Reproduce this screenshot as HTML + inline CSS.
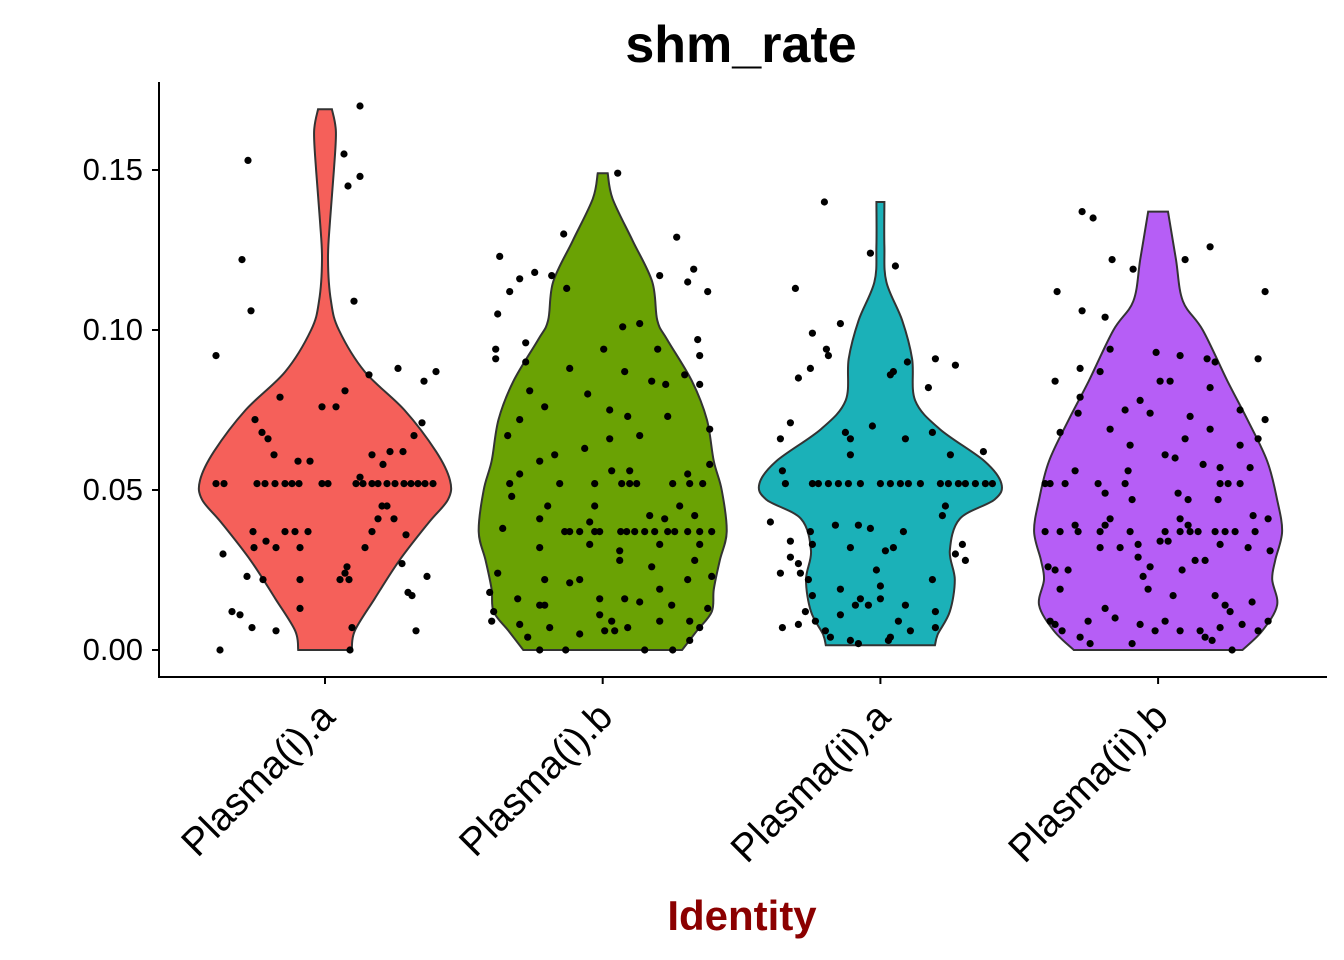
<!DOCTYPE html>
<html><head><meta charset="utf-8"><style>
html,body{margin:0;padding:0;background:#fff;}
svg{display:block;font-family:"Liberation Sans",Arial,sans-serif;}
</style></head><body>
<svg id="chart" width="1344" height="960" xmlns="http://www.w3.org/2000/svg">
<text x="741" y="62" text-anchor="middle" font-size="52" font-weight="bold">shm_rate</text>
<g id="plot"></g>
<text x="742" y="930" text-anchor="middle" font-size="42" font-weight="bold" fill="#8B0000">Identity</text>
</svg>
<script>
const categories = ["Plasma(i).a","Plasma(i).b","Plasma(ii).a","Plasma(ii).b"];
const colors = ["#F5605A","#6AA204","#1BB1B8","#B65EF6"];
const yTicks = [0,0.05,0.10,0.15];
const yTickLabels = ["0.00","0.05","0.10","0.15"];
// violin profiles: value (per mille) and relative density
const violinVals = [
 [0,6,16,28,40,47,53,62,75,87,100,109,122,134,150,162,169],
 [0,6,12,19,28,37,50,59,72,84,97,103,115,128,141,149],
 [1.5,5,12,22,31,41,47,52,59,69,78,91,103,115,126,140],
 [0,6,14,22,28,37,47,59,72,84,100,109,122,137]
];
const violinDens = [
 [27,30,50,75,105,124,126,112,80,40,14,6,3,5,9,11,7],
 [80,95,110,112,118,125,120,112,105,90,65,55,50,30,10,5],
 [55,58,70,75,70,80,115,122,105,60,35,32,22,6,4,4],
 [85,105,120,115,118,125,120,110,90,70,45,25,18,10]
];
const g1Row52=[-109,-101,-68,-60,-50,-40,-33,-26,-3,3,31,38,47,53,62,70,79,86,93,100,108];
const pts1=[[-109,92],[-77,153],[-83,122],[-74,106],[35,170],[19,155],[23,145],[35,148],[29,109],[44,86],[20,81],[-3,76],[11,76],[-15,59],[-27,59],[-70,72],[-45,79],[-63,68],[-57,66],[-51,61],[89,67],[97,71],[73,88],[99,84],[111,87],[65,62],[78,62],[58,58],[35,54],[47,61],[-72,37],[-40,37],[-30,37],[-17,37],[-102,30],[-71,32],[-59,34],[-49,32],[-25,32],[57,45],[53,41],[47,37],[40,32],[62,45],[69,41],[81,36],[22,26],[15,22],[24,22],[20,24],[-25,22],[-62,22],[-78,23],[-93,12],[-85,11],[-73,7],[-49,6],[-25,13],[27,7],[77,27],[83,18],[87,17],[102,23],[91,6],[-105,0],[25,0]].concat(g1Row52.map(d=>[d,52]));
const g2Row52=[-93,-43,-8,19,27,34,70,87,100];
const g2Row37=[-38,-33,-23,-8,-3,18,24,32,42,52,65,72,85,97,109];
const pts2=[[15,149],[-39,130],[-103,123],[74,129],[91,119],[105,112],[57,117],[85,115],[-93,112],[-83,116],[-68,118],[-51,117],[-36,113],[-105,105],[-107,94],[-107,91],[-77,96],[-77,90],[-73,81],[-33,88],[-15,80],[1,94],[20,101],[37,102],[55,94],[95,97],[97,92],[97,83],[82,86],[63,83],[49,84],[22,87],[7,75],[-58,76],[-83,72],[-95,67],[107,69],[65,73],[37,67],[25,73],[7,66],[-18,63],[-48,61],[-63,59],[107,58],[27,56],[9,56],[-83,55],[85,55],[-91,48],[-55,45],[-8,45],[77,45],[47,42],[-63,41],[-13,40],[62,41],[92,42],[-100,38],[-63,32],[-13,33],[17,31],[57,33],[97,33],[92,28],[49,26],[17,28],[-58,22],[-33,21],[-23,22],[-105,24],[109,23],[85,22],[57,19],[-113,18],[-85,16],[-58,14],[-3,16],[22,16],[37,15],[69,14],[105,13],[-109,12],[-111,9],[-83,8],[-63,14],[-3,11],[9,9],[25,7],[57,9],[87,9],[-75,4],[-53,7],[-23,5],[2,6],[12,6],[-37,0],[-63,0],[42,0],[70,0],[87,3],[97,7]].concat(g2Row52.map(d=>[d,52]),g2Row37.map(d=>[d,37]));
const g3Row52=[-95,-68,-62,-52,-42,-32,-20,0,10,20,28,40,60,68,78,85,95,105,112];
const pts3=[[-56,140],[-10,124],[15,120],[-85,113],[-40,102],[-68,99],[-54,94],[-52,92],[27,90],[55,91],[75,89],[-82,85],[-70,88],[13,87],[10,86],[48,82],[-90,71],[-100,66],[-8,70],[-30,66],[-35,68],[52,68],[25,66],[-30,61],[70,61],[103,62],[-98,56],[-110,40],[-45,39],[-22,39],[-10,38],[23,37],[-70,37],[65,45],[62,42],[-90,34],[-68,33],[-30,32],[13,32],[5,31],[82,33],[75,30],[85,28],[-90,29],[-82,27],[-80,24],[-100,24],[-72,22],[-4,25],[52,22],[-40,19],[0,20],[-68,17],[-75,12],[-20,16],[0,16],[-25,14],[-12,14],[25,14],[55,12],[-98,7],[-82,8],[-65,9],[-40,11],[-55,6],[-50,4],[-30,3],[-22,2],[8,3],[18,9],[30,6],[55,7],[10,4]].concat(g3Row52.map(d=>[d,52]));
const g4Row52=[-113,-108,-93,-60,-33,62,70,82];
const g4Row37=[-113,-98,-80,-58,-28,7,22,32,40,57,67,77,97];
const pts4=[[-76,137],[-65,135],[27,122],[-46,122],[-25,119],[52,126],[-101,112],[107,112],[-76,106],[-53,104],[-48,94],[-2,93],[22,92],[49,91],[57,90],[100,91],[-78,88],[-58,87],[-103,84],[2,84],[12,84],[52,82],[-78,79],[-18,78],[-80,74],[-8,74],[-33,75],[32,73],[82,75],[107,72],[-98,68],[-48,69],[52,69],[27,66],[100,66],[-28,64],[82,64],[7,61],[17,60],[45,58],[-83,56],[-30,56],[62,57],[92,57],[-53,49],[-26,47],[20,49],[30,47],[60,47],[95,42],[110,41],[-48,41],[-83,39],[-53,39],[22,41],[30,39],[-58,32],[-38,32],[-20,33],[2,34],[10,34],[62,33],[90,32],[112,31],[-20,29],[47,28],[-110,26],[-103,25],[-90,25],[-15,23],[-8,26],[24,25],[37,28],[-98,19],[-10,19],[15,17],[57,17],[67,14],[94,15],[-53,13],[72,12],[-108,9],[-103,8],[-70,9],[-43,10],[-18,8],[7,9],[42,6],[62,7],[84,8],[110,9],[-78,4],[-68,2],[-26,2],[-3,6],[22,6],[47,4],[74,0],[54,3],[100,6],[-96,6]].concat(g4Row52.map(d=>[d,52]),g4Row37.map(d=>[d,37]));
const points=[pts1,pts2,pts3,pts4];

const NS="http://www.w3.org/2000/svg";
const plot=document.getElementById('plot');
const X0=159,X1=1327,Ytop=82,Ybot=677;
const xCenter=i=>325+i*277.7;
const yScale=v=>650-v*3200;
const maxHalf=125/126;
function mk(tag,attrs){const e=document.createElementNS(NS,tag);for(const k in attrs)e.setAttribute(k,attrs[k]);plot.appendChild(e);return e;}
function smooth(pts){let d="M"+pts[0][0]+","+pts[0][1];for(let i=0;i<pts.length-1;i++){const p0=pts[Math.max(i-1,0)],p1=pts[i],p2=pts[i+1],p3=pts[Math.min(i+2,pts.length-1)];const c1=[p1[0]+(p2[0]-p0[0])/6,p1[1]+(p2[1]-p0[1])/6],c2=[p2[0]-(p3[0]-p1[0])/6,p2[1]-(p3[1]-p1[1])/6];d+=" C"+c1[0].toFixed(1)+","+c1[1].toFixed(1)+" "+c2[0].toFixed(1)+","+c2[1].toFixed(1)+" "+p2[0].toFixed(1)+","+p2[1].toFixed(1);}return d;}
categories.forEach((c,i)=>{
  const cx=xCenter(i);
  const right=violinVals[i].map((v,j)=>[cx+violinDens[i][j]*maxHalf,yScale(v/1000)]);
  const left=violinVals[i].map((v,j)=>[cx-violinDens[i][j]*maxHalf,yScale(v/1000)]).reverse();
  const d=smooth(right)+" L"+left[0][0]+","+left[0][1]+" "+smooth(left).slice(1).replace(/^[^C]*/,"")+" Z";
  const p=mk('path',{d:d,fill:colors[i],stroke:"#333",'stroke-width':2});
  
  
});
points.forEach((arr,i)=>{
  const cx=xCenter(i);
  arr.forEach(pt=>{
    const e=mk('circle',{cx:cx+pt[0],cy:yScale(pt[1]/1000),r:3.6,fill:"#000"});
    
    
  });
});
// axes
const ya=mk('line',{x1:X0,y1:Ytop,x2:X0,y2:Ybot+1,stroke:"#000",'stroke-width':2});


const xa=mk('line',{x1:X0-1,y1:Ybot,x2:X1,y2:Ybot,stroke:"#000",'stroke-width':2});


yTicks.forEach((t,i)=>{
  const y=yScale(t);
  const tk=mk('line',{x1:X0-7,y1:y,x2:X0,y2:y,stroke:"#000",'stroke-width':2});
  
  
  const tx=mk('text',{x:X0-16,y:y+10,'text-anchor':'end','font-size':31,fill:'#000'});
  tx.textContent=yTickLabels[i];
  
  
});
categories.forEach((c,i)=>{
  const x=xCenter(i);
  const tk=mk('line',{x1:x,y1:Ybot,x2:x,y2:Ybot+7,stroke:"#000",'stroke-width':2});
  
  
  const ax=x+12, ay=Ybot+42;
  const tx=mk('text',{x:ax,y:ay,'text-anchor':'end','font-size':39,fill:'#000',transform:'rotate(-45 '+ax+' '+ay+')'});
  tx.textContent=c;
  
  
});
</script>
</body></html>
